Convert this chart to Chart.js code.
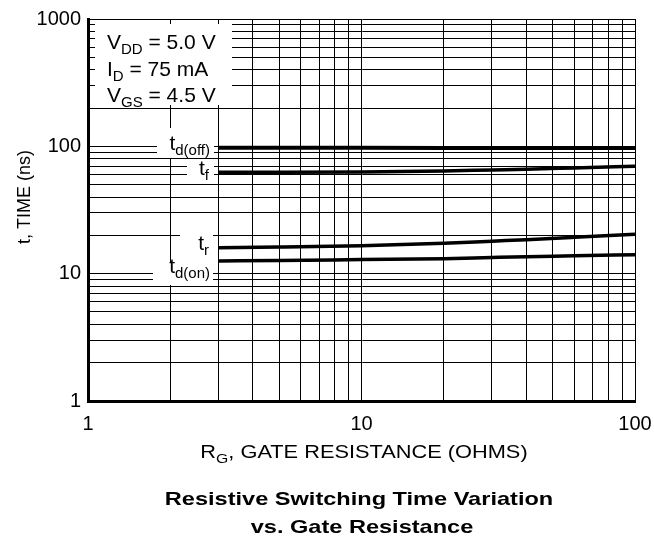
<!DOCTYPE html>
<html>
<head>
<meta charset="utf-8">
<script src="https://cdn.jsdelivr.net/npm/chart.js@4.4.1/dist/chart.umd.min.js"></script>
<style>
  html, body { margin: 0; padding: 0; background: #fff; }
  #wrap { width: 654px; height: 545px; }
</style>
</head>
<body>
<div id="wrap"><canvas id="myChart" width="654" height="545"></canvas></div>
<script>
// gate resistance (ohms)
var rg = [3, 5, 10, 20, 30, 40, 60, 100];
// switching times (ns)
var tdOff = [97.5, 97.4, 97.3, 97.2, 97.1, 97.1, 97.0, 97.0];
var tFall = [62.6, 62.6, 63.0, 64.1, 65.3, 66.1, 67.7, 69.8];
var tRise = [16.0, 16.2, 16.6, 17.3, 18.0, 18.5, 19.3, 20.4];
var tdOn  = [12.6, 12.7, 12.9, 13.1, 13.4, 13.6, 13.8, 14.1];

var xTickLabels = [1, 10, 100];
var yTickLabels = [1, 10, 100, 1000];

var FONT = '"Liberation Sans", Arial, Helvetica, sans-serif';

function toPoints(ys) {
    return rg.map(function (x, i) { return { x: x, y: ys[i] }; });
}

// log grid: 1,2,...,9,10,20,... up to max
function logGrid(min, max) {
    var out = [];
    for (var d = min; d < max; d *= 10) {
        for (var m = 1; m < 10; m++) out.push(d * m);
    }
    out.push(max);
    return out;
}

function series(ys, w) {
    return {
        data: toPoints(ys),
        borderColor: '#000',
        borderWidth: w,
        pointRadius: 0,
        tension: 0.4,
        cubicInterpolationMode: 'monotone',
        fill: false
    };
}

// draw text made of parts, some of them subscript; sx stretches it sideways
function richText(ctx, parts, x, y, size, align, sx, bold) {
    sx = sx || 1;
    var pre = bold ? 'bold ' : '';
    var sub = Math.round(size * 0.72);
    var w = 0;
    parts.forEach(function (p) {
        ctx.font = pre + (p.sub ? sub : size) + 'px ' + FONT;
        p.w = ctx.measureText(p.t).width;
        w += p.w;
    });
    var start = align === 'right' ? x - w * sx : (align === 'center' ? x - w * sx / 2 : x);
    ctx.save();
    ctx.translate(start, y);
    ctx.scale(sx, 1);
    ctx.textBaseline = 'alphabetic';
    ctx.textAlign = 'left';
    var cx = 0;
    parts.forEach(function (p) {
        ctx.font = pre + (p.sub ? sub : size) + 'px ' + FONT;
        ctx.fillText(p.t, cx, p.sub ? size * 0.25 : 0);
        cx += p.w;
    });
    ctx.restore();
}

var annotate = {
    id: 'annotate',
    beforeDatasetsDraw: function (chart) {
        var ctx = chart.ctx;
        ctx.save();
        ctx.fillStyle = '#fff';
        // white boxes behind the notes and curve labels
        ctx.fillRect(95, 24, 137, 81);
        ctx.fillRect(157, 128, 57, 30);
        ctx.fillRect(187, 160, 27, 20);
        ctx.fillRect(180, 233, 33, 26);
        ctx.fillRect(153, 262, 60, 23);
        ctx.restore();
    },
    afterDraw: function (chart) {
        var ctx = chart.ctx;
        ctx.save();
        ctx.fillStyle = '#000';
        richText(ctx, [{ t: 'V' }, { t: 'DD', sub: true }, { t: ' = 5.0 V' }], 107, 49, 21, 'left');
        richText(ctx, [{ t: 'I' }, { t: 'D', sub: true }, { t: ' = 75 mA' }], 107, 76, 21, 'left');
        richText(ctx, [{ t: 'V' }, { t: 'GS', sub: true }, { t: ' = 4.5 V' }], 107, 102, 21, 'left');

        richText(ctx, [{ t: 't' }, { t: 'd(off)', sub: true }], 210, 150, 21, 'right');
        richText(ctx, [{ t: 't' }, { t: 'f', sub: true }], 209, 175, 21, 'right');
        richText(ctx, [{ t: 't' }, { t: 'r', sub: true }], 209, 250, 21, 'right');
        richText(ctx, [{ t: 't' }, { t: 'd(on)', sub: true }], 210, 273, 21, 'right');

        // axis titles
        richText(ctx, [{ t: 'R' }, { t: 'G', sub: true }, { t: ', GATE RESISTANCE (OHMS)' }], 364, 458, 18, 'center', 1.21);
        ctx.save();
        ctx.translate(30, 197);
        ctx.rotate(-Math.PI / 2);
        richText(ctx, [{ t: 't, TIME (ns)' }], 0, 0, 18, 'center');
        ctx.restore();

        // caption
        richText(ctx, [{ t: 'Resistive Switching Time Variation' }], 359, 505, 19, 'center', 1.24, true);
        richText(ctx, [{ t: 'vs. Gate Resistance' }], 362, 533, 19, 'center', 1.24, true);
        ctx.restore();
    }
};

var ctx = document.getElementById('myChart').getContext('2d');

var myChart = new Chart(ctx, {
    type: 'line',
    data: {
        datasets: [series(tdOff, 4), series(tFall, 3.5), series(tRise, 3.5), series(tdOn, 3.5)]
    },
    options: {
        responsive: false,
        animation: false,
        devicePixelRatio: 1,
        layout: { padding: { left: 0, right: 19, top: 17, bottom: 0 } },
        plugins: {
            legend: { display: false },
            tooltip: { enabled: false }
        },
        scales: {
            x: {
                type: 'logarithmic',
                min: 1,
                max: 100,
                afterBuildTicks: function (scale) {
                    scale.ticks = logGrid(1, 100).map(function (v) { return { value: v }; });
                },
                afterFit: function (scale) {
                    scale.height = 144;
                    scale.paddingLeft = 0;
                    scale.paddingRight = 0;
                },
                grid: { color: '#000', lineWidth: 1, drawTicks: false },
                border: { display: true, color: '#000', width: 3 },
                ticks: {
                    autoSkip: false,
                    maxRotation: 0,
                    padding: 11,
                    color: '#000',
                    font: { family: FONT, size: 20 },
                    callback: function (v) { return xTickLabels.indexOf(v) >= 0 ? String(v) : ''; }
                }
            },
            y: {
                type: 'logarithmic',
                min: 1,
                max: 1000,
                afterBuildTicks: function (scale) {
                    scale.ticks = logGrid(1, 1000).map(function (v) { return { value: v }; });
                },
                afterFit: function (scale) { scale.width = 88; },
                grid: { color: '#000', lineWidth: 1, drawTicks: false },
                border: { display: true, color: '#000', width: 3 },
                ticks: {
                    autoSkip: false,
                    padding: 7,
                    color: '#000',
                    font: { family: FONT, size: 20 },
                    callback: function (v) { return yTickLabels.indexOf(v) >= 0 ? String(v) : ''; }
                }
            }
        }
    },
    plugins: [annotate]
});
</script>
</body>
</html>
